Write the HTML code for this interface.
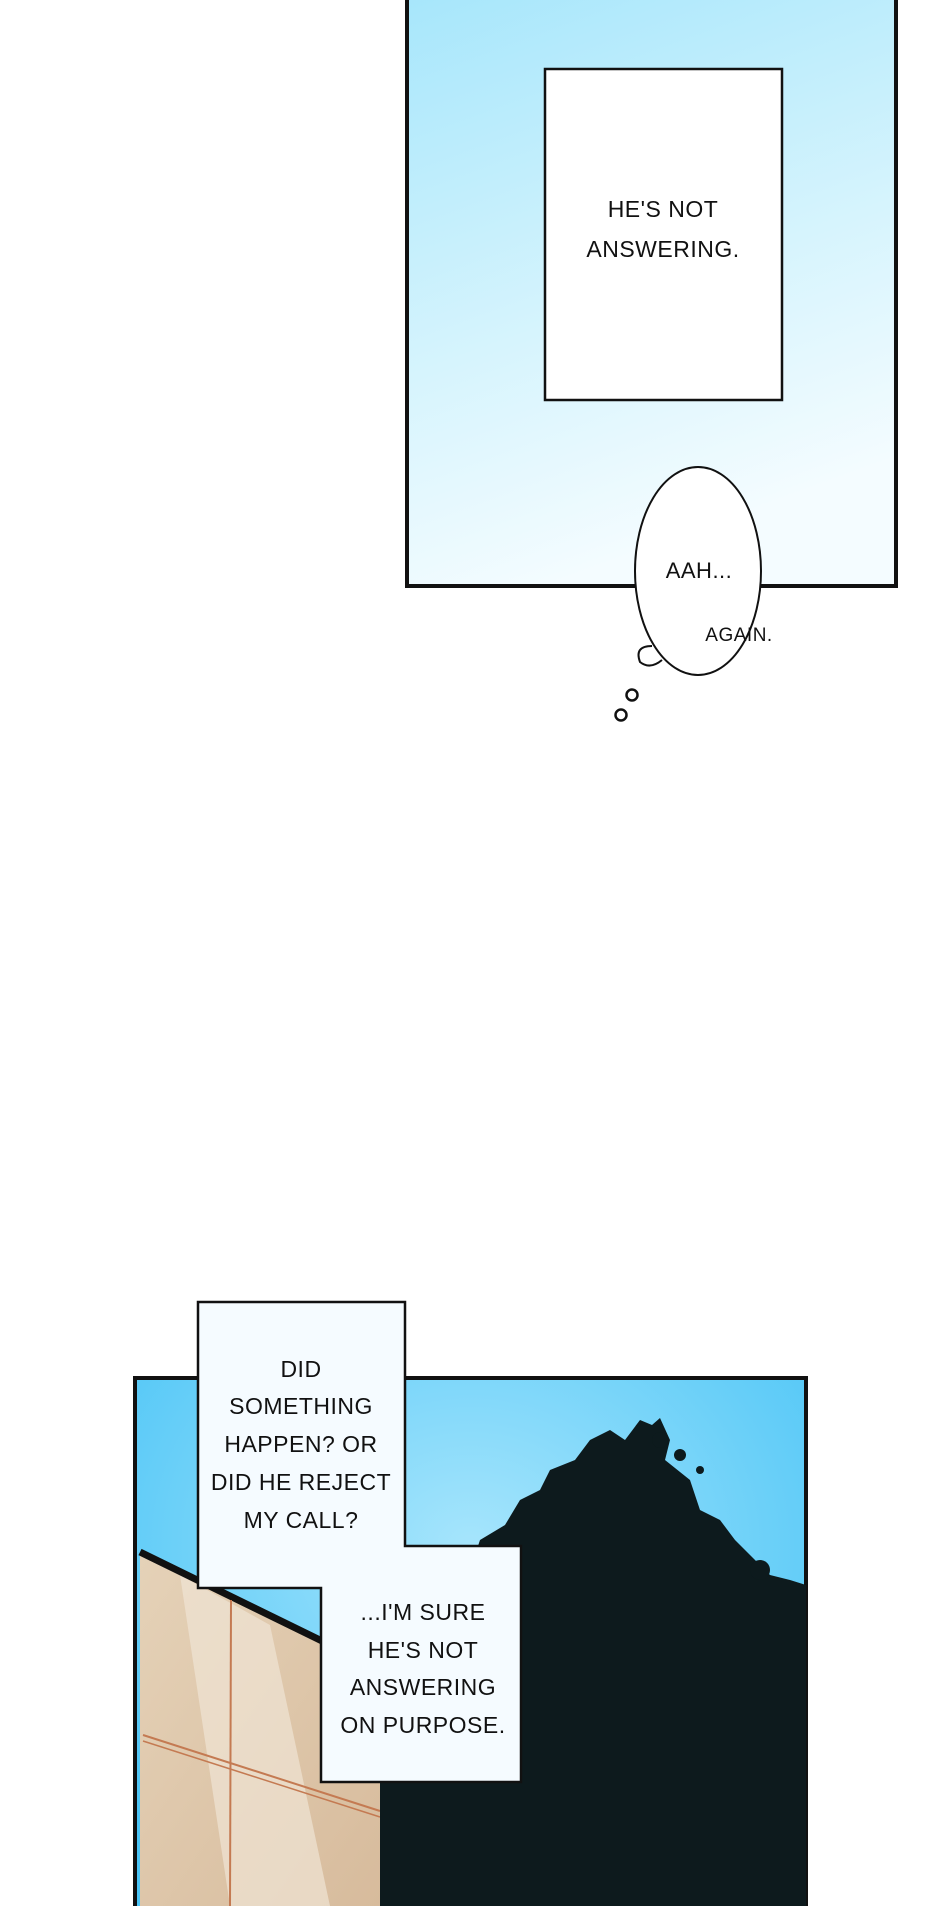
<!DOCTYPE html>
<html><head><meta charset="utf-8"><style>
html,body{margin:0;padding:0;background:#fff;width:940px;height:1906px;overflow:hidden}
svg text{font-family:"Liberation Sans",sans-serif;font-size:23px;fill:#111;text-anchor:middle;letter-spacing:0.5px}
</style></head><body>
<svg width="940" height="1906" viewBox="0 0 940 1906" xmlns="http://www.w3.org/2000/svg">
<defs>
<linearGradient id="g1" x1="0" y1="0" x2="0.3" y2="1">
<stop offset="0" stop-color="#a6e6fb"/><stop offset="0.6" stop-color="#d6f4fd"/><stop offset="1" stop-color="#f4fcff"/>
</linearGradient>
<radialGradient id="g2" cx="0.5" cy="0.3" r="0.7">
<stop offset="0" stop-color="#a6e5fc"/><stop offset="1" stop-color="#4ac4f6"/>
</radialGradient>
<linearGradient id="g3" x1="0" y1="0" x2="1" y2="1">
<stop offset="0" stop-color="#e5d2b8"/><stop offset="1" stop-color="#d7bb9c"/>
</linearGradient>
</defs>
<!-- top panel -->
<rect x="407" y="-10" width="489" height="596" fill="url(#g1)" stroke="#111" stroke-width="4"/>
<rect x="545" y="69" width="237" height="331" fill="#fff" stroke="#111" stroke-width="2.5"/>
<text x="663" y="217">HE'S NOT</text>
<text x="663" y="257">ANSWERING.</text>
<ellipse cx="698" cy="571" rx="63" ry="104" fill="#fff" stroke="#111" stroke-width="2"/>
<path d="M652 646 q-18 0 -12 16 q10 8 22 -2" fill="#fff" stroke="#111" stroke-width="2"/>
<circle cx="632" cy="695" r="5.5" fill="#fff" stroke="#111" stroke-width="2.5"/>
<circle cx="621" cy="715" r="5.5" fill="#fff" stroke="#111" stroke-width="2.5"/>
<text x="699" y="578" style="font-size:22px">AAH...</text>
<text x="739" y="641" style="font-size:19px">AGAIN.</text>
<!-- bottom panel -->
<rect x="135" y="1378" width="671" height="560" fill="url(#g2)" stroke="#111" stroke-width="4"/>
<polygon points="140,1552 322,1641 380,1660 380,1906 140,1906" fill="url(#g3)"/>
<polygon points="180,1575 270,1625 330,1906 230,1906" fill="#efe4d4" opacity="0.7"/>
<line x1="140" y1="1552" x2="322" y2="1641" stroke="#111" stroke-width="7"/>
<line x1="231" y1="1600" x2="230" y2="1906" stroke="#c47a52" stroke-width="2"/>
<line x1="143" y1="1735" x2="380" y2="1811" stroke="#c47a52" stroke-width="2"/>
<line x1="143" y1="1741" x2="380" y2="1817" stroke="#c47a52" stroke-width="1.5"/>
<!-- tree -->
<path d="M380 1906 L380 1780 L392 1720 L400 1690 L410 1660 L420 1630 L440 1610 L450 1585 L470 1570 L480 1540 L505 1525 L520 1500 L540 1490 L550 1470 L575 1460 L590 1440 L610 1430 L625 1440 L640 1420 L652 1425 L660 1418 L670 1440 L665 1460 L690 1480 L700 1510 L720 1520 L735 1540 L755 1560 L770 1575 L790 1580 L806 1585 L806 1906 Z" fill="#0d1a1d"/>
<g fill="#0d1a1d">
<circle cx="680" cy="1455" r="6"/><circle cx="700" cy="1470" r="4"/><circle cx="660" cy="1440" r="8"/>
<circle cx="760" cy="1570" r="10"/><circle cx="450" cy="1600" r="8"/><circle cx="420" cy="1650" r="9"/>
</g>
<!-- caption boxes -->
<path d="M198 1302 H405 V1546 H521 V1782 H321 V1588 H198 Z" fill="#f5fbff" stroke="#111" stroke-width="2.5"/>
<text x="301" y="1377">DID</text>
<text x="301" y="1414">SOMETHING</text>
<text x="301" y="1452">HAPPEN? OR</text>
<text x="301" y="1490">DID HE REJECT</text>
<text x="301" y="1528">MY CALL?</text>
<text x="423" y="1620">...I'M SURE</text>
<text x="423" y="1658">HE'S NOT</text>
<text x="423" y="1695">ANSWERING</text>
<text x="423" y="1733">ON PURPOSE.</text>
</svg>
</body></html>
